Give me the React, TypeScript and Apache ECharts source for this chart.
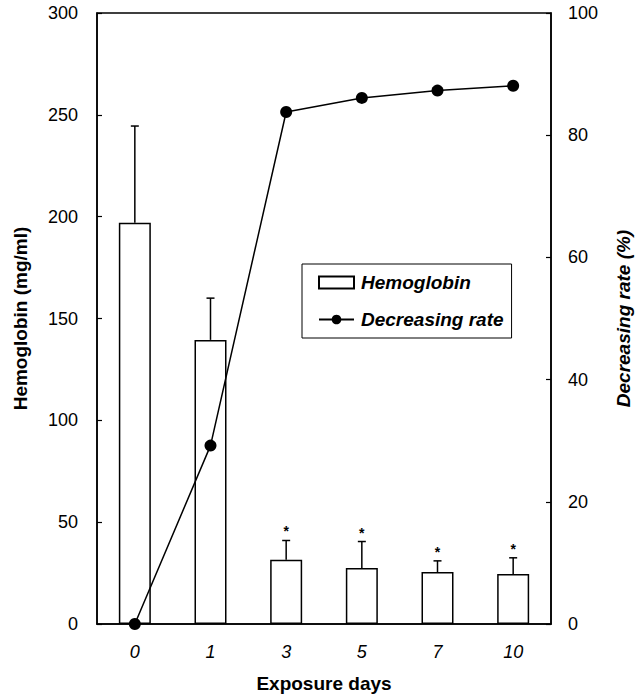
import React, { useEffect, useRef } from "react";
import * as echarts from "echarts";

const categories = ["0", "1", "3", "5", "7", "10"];
const hemoglobin = [197, 139.5, 31.5, 27.5, 25.5, 24.5];
const hemoglobinErrTop = [244.5, 160, 41, 40.5, 31, 32.5];
const significant = [false, false, true, true, true, true];
const decreasingRate = [0, 29.2, 83.8, 86.1, 87.3, 88.1];
const leftTicks = [0, 50, 100, 150, 200, 250, 300];
const rightTicks = [0, 20, 40, 60, 80, 100];

const FONT = "Liberation Sans, Arial, Helvetica, sans-serif";

export default function App() {
  const ref = useRef<HTMLDivElement>(null);
  useEffect(() => {
    if (!ref.current) return;
    const chart = echarts.init(ref.current, undefined, { renderer: "svg" });
    const errData = categories.map((_, i) => [i, hemoglobin[i], hemoglobinErrTop[i], significant[i] ? 1 : 0]);
    chart.setOption({
      animation: false,
      backgroundColor: "#fff",
      textStyle: { fontFamily: FONT },
      grid: { left: 97, right: 82, top: 13, bottom: 73, show: true, borderColor: "#000", borderWidth: 1.5, backgroundColor: "transparent" },
      legend: {
        orient: "vertical",
        left: 302,
        top: 264,
        padding: [9, 8, 9, 16],
        itemGap: 18,
        itemWidth: 35,
        itemHeight: 12,
        borderColor: "#000",
        borderWidth: 1,
        backgroundColor: "#fff",
        textStyle: { fontFamily: FONT, fontSize: 19, fontWeight: "bold", fontStyle: "italic", color: "#000", padding: [0, 0, 0, 2] },
        data: [
          { name: "Hemoglobin", icon: "rect" },
          { name: "Decreasing rate" },
        ],
      },
      xAxis: {
        type: "category",
        data: categories,
        boundaryGap: true,
        name: "Exposure days",
        nameLocation: "middle",
        nameGap: 50,
        nameTextStyle: { fontFamily: FONT, fontSize: 19, fontWeight: "bold", color: "#000" },
        axisLine: { lineStyle: { color: "#000", width: 1.5 } },
        axisTick: { inside: true, length: 5, lineStyle: { color: "#000", width: 1.2 } },
        axisLabel: { fontFamily: FONT, fontSize: 18, fontStyle: "italic", color: "#000", margin: 19 },
        splitLine: { show: false },
      },
      yAxis: [
        {
          type: "value",
          min: leftTicks[0],
          max: leftTicks[leftTicks.length - 1],
          interval: 50,
          name: "Hemoglobin (mg/ml)",
          nameLocation: "middle",
          nameGap: 67,
          nameTextStyle: { fontFamily: FONT, fontSize: 19, fontWeight: "bold", color: "#000" },
          axisLine: { show: true, lineStyle: { color: "#000", width: 1.5 } },
          axisTick: { show: true, inside: true, length: 5, lineStyle: { color: "#000", width: 1.2 } },
          axisLabel: { fontFamily: FONT, fontSize: 18, color: "#000", margin: 19 },
          splitLine: { show: false },
        },
        {
          type: "value",
          position: "right",
          min: rightTicks[0],
          max: rightTicks[rightTicks.length - 1],
          interval: 20,
          name: "Decreasing rate (%)",
          nameLocation: "middle",
          nameRotate: 90,
          nameGap: 63,
          nameTextStyle: { fontFamily: FONT, fontSize: 19, fontWeight: "bold", fontStyle: "italic", color: "#000" },
          axisLine: { show: true, lineStyle: { color: "#000", width: 1.5 } },
          axisTick: { show: true, inside: true, length: 5, lineStyle: { color: "#000", width: 1.2 } },
          axisLabel: { fontFamily: FONT, fontSize: 18, color: "#000", margin: 17 },
          splitLine: { show: false },
        },
      ],
      series: [
        {
          name: "Hemoglobin",
          type: "bar",
          yAxisIndex: 0,
          data: hemoglobin,
          barWidth: 32,
          itemStyle: { color: "#fff", borderColor: "#000", borderWidth: 1.5 },
          z: 2,
        },
        {
          name: "errbars",
          type: "custom",
          yAxisIndex: 0,
          data: errData,
          z: 3,
          silent: true,
          renderItem: (params: any, api: any) => {
            const idx = api.value(0);
            const base = api.coord([idx, api.value(1)]);
            const top = api.coord([idx, api.value(2)]);
            const cap = 4;
            const children: any[] = [
              { type: "line", shape: { x1: base[0], y1: base[1], x2: top[0], y2: top[1] }, style: { stroke: "#000", lineWidth: 1.5 } },
              { type: "line", shape: { x1: top[0] - cap, y1: top[1], x2: top[0] + cap, y2: top[1] }, style: { stroke: "#000", lineWidth: 1.5 } },
            ];
            if (api.value(3)) {
              children.push({
                type: "text",
                style: { text: "*", x: top[0], y: top[1] - 9, fill: "#000", font: `bold 14px ${FONT}`, align: "center", verticalAlign: "middle" },
              });
            }
            return { type: "group", children };
          },
        },
        {
          name: "Decreasing rate",
          type: "line",
          yAxisIndex: 1,
          data: decreasingRate,
          symbol: "circle",
          symbolSize: 12,
          clip: false,
          lineStyle: { color: "#000", width: 1.5 },
          itemStyle: { color: "#000" },
          z: 5,
        },
      ],
    });
    return () => chart.dispose();
  }, []);
  return <div ref={ref} style={{ width: 641, height: 698, position: "absolute", left: 0, top: 0 }} />;
}
